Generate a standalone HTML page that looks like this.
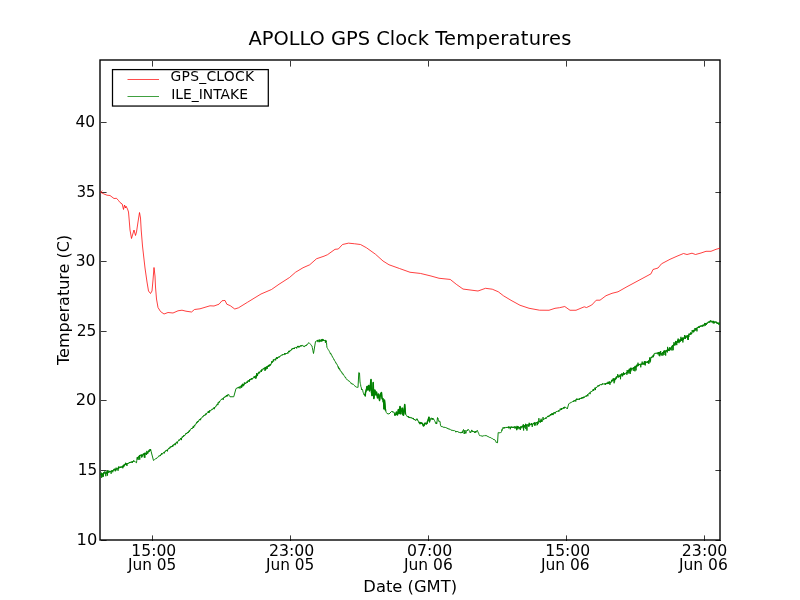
<!DOCTYPE html>
<html lang="en"><head><meta charset="utf-8"><title>APOLLO GPS Clock Temperatures</title>
<style>html,body{margin:0;padding:0;background:#fff;overflow:hidden}svg{display:block}text{font-family:"DejaVu Sans","Liberation Sans",sans-serif;fill:#000}</style></head><body>
<svg width="800" height="600" viewBox="0 0 800 600">
<rect x="0" y="0" width="800" height="600" fill="#fff"/>
<path d="M152.5,541v-5.6M152.5,61v5.6M290.5,541v-5.6M290.5,61v5.6M428.5,541v-5.6M428.5,61v5.6M566.5,541v-5.6M566.5,61v5.6M704.5,541v-5.6M704.5,61v5.6M101,540.5h5.6M721,540.5h-5.6M101,470.5h5.6M721,470.5h-5.6M101,400.5h5.6M721,400.5h-5.6M101,331.5h5.6M721,331.5h-5.6M101,261.5h5.6M721,261.5h-5.6M101,192.5h5.6M721,192.5h-5.6M101,122.5h5.6M721,122.5h-5.6" stroke="#000" stroke-width="0.78" fill="none"/>
<rect x="100" y="60" width="620" height="480" fill="none" stroke="#000" stroke-width="1.39"/>
<clipPath id="c"><rect x="100" y="60" width="620" height="480"/></clipPath>
<g clip-path="url(#c)" fill="none" stroke-linejoin="round" stroke-linecap="butt">
<path d="M102.30,190.60 L100.60,192.30 L104.00,194.00 L107.00,195.20 L110.00,195.50 L112.00,197.00 L114.00,198.50 L116.50,198.30 L118.50,200.50 L120.00,202.50 L122.20,204.00 L123.50,209.50 L124.50,205.00 L125.50,208.00 L126.00,206.20 L127.50,209.00 L128.50,212.00 L129.20,220.00 L130.00,230.00 L131.50,238.50 L132.80,234.00 L134.00,230.00 L135.50,235.50 L136.50,232.00 L138.00,222.00 L139.50,212.50 L140.50,218.00 L141.20,230.00 L142.50,246.00 L145.00,268.00 L147.00,282.00 L148.50,291.00 L150.50,293.50 L152.00,291.00 L153.00,280.00 L154.00,267.50 L155.00,276.00 L155.50,287.00 L156.50,299.00 L158.00,307.50 L160.50,311.50 L164.00,314.00 L168.00,312.50 L173.00,313.00 L178.00,310.80 L182.00,310.20 L186.00,311.20 L191.50,312.00 L194.50,309.50 L200.00,308.80 L210.00,305.80 L214.00,306.00 L219.00,304.20 L222.00,300.75 L225.00,300.45 L226.80,304.20 L230.25,305.70 L234.75,309.00 L238.50,307.80 L247.50,302.25 L261.00,294.00 L271.50,289.50 L279.00,284.25 L289.50,277.50 L295.50,272.25 L303.00,267.75 L309.75,264.75 L316.50,258.75 L324.00,256.20 L327.50,254.70 L335.00,249.30 L338.30,249.00 L342.50,244.50 L348.50,243.15 L354.50,243.75 L360.50,244.50 L366.50,247.80 L375.50,254.25 L383.00,261.00 L389.00,264.75 L399.50,268.50 L410.00,272.25 L420.50,273.45 L431.00,276.00 L439.00,278.25 L450.25,279.45 L456.25,284.25 L463.00,289.05 L478.00,291.00 L485.50,288.30 L492.25,289.20 L498.25,291.75 L503.50,295.80 L511.00,300.30 L520.00,305.25 L529.00,308.25 L539.50,310.20 L549.00,310.25 L555.00,308.30 L559.50,307.70 L564.75,306.50 L570.00,310.25 L576.00,310.25 L584.25,306.80 L586.50,307.55 L591.75,305.00 L596.25,300.20 L600.00,300.20 L606.00,295.70 L612.00,293.30 L618.00,291.80 L627.00,286.70 L639.00,280.25 L646.00,276.50 L651.00,273.80 L653.00,269.50 L658.00,268.00 L661.50,263.80 L670.00,259.30 L677.00,256.20 L683.50,253.50 L687.00,254.50 L692.00,253.20 L695.50,254.50 L701.00,253.00 L706.00,251.30 L711.00,251.30 L716.00,249.30 L720.00,248.20" stroke="#ff0000" stroke-width="0.75"/>
<path d="M100.00,475.00 L100.28,474.08 L100.56,475.15 L100.83,473.79 L101.11,474.62 L101.39,472.68 L101.67,477.81 L101.94,474.16 L102.22,474.38 L102.50,473.48 L102.78,476.91 L103.06,473.38 L103.33,476.58 L103.61,472.37 L103.89,474.14 L104.17,472.36 L104.44,473.22 L104.72,471.46 L105.00,473.00 L105.28,472.97 L105.56,472.64 L105.83,476.21 L106.11,471.61 L106.39,473.73 L106.67,472.49 L106.94,472.44 L107.22,470.62 L107.50,475.58 L107.78,470.28 L108.06,472.90 L108.33,471.98 L108.61,472.44 L108.89,470.66 L109.17,472.45 L109.44,471.23 L109.72,471.81 L110.00,471.50 L110.28,471.17 L110.56,471.70 L110.83,470.93 L111.11,473.76 L111.39,470.57 L111.67,471.33 L111.94,470.51 L112.22,471.00 L112.50,470.44 L112.78,472.25 L113.06,470.00 L113.33,470.38 L113.61,469.50 L113.89,470.56 L114.17,468.90 L114.44,469.87 L114.72,468.72 L115.00,469.50 L115.28,471.32 L115.56,468.85 L115.83,470.77 L116.11,467.69 L116.39,469.60 L116.67,468.68 L116.94,468.89 L117.22,468.47 L117.50,469.23 L117.78,468.28 L118.06,470.75 L118.33,467.00 L118.61,468.73 L118.89,466.31 L119.17,468.15 L119.44,467.37 L119.72,467.82 L120.00,467.50 L120.28,466.95 L120.56,467.78 L120.83,466.51 L121.11,467.93 L121.39,466.56 L121.67,466.53 L121.94,466.22 L122.22,466.21 L122.50,465.94 L122.78,468.29 L123.06,465.57 L123.33,467.17 L123.61,465.03 L123.89,466.79 L124.17,464.18 L124.44,465.71 L124.72,464.25 L125.00,464.50 L125.28,465.09 L125.56,462.77 L125.83,464.64 L126.11,463.52 L126.39,464.69 L126.67,463.42 L126.94,465.94 L127.22,463.04 L127.50,463.66 L127.78,463.23 L128.06,463.96 L128.33,463.16 L128.61,463.14 L128.89,462.88 L129.17,463.17 L129.44,461.99 L129.72,463.02 L130.00,462.50 L130.29,462.27 L130.57,462.83 L130.86,461.92 L131.14,462.43 L131.43,461.69 L131.71,462.33 L132.00,461.54 L132.29,462.93 L132.57,461.26 L132.86,461.56 L133.14,461.03 L133.43,461.66 L133.71,460.31 L134.00,461.00 L134.28,461.26 L134.56,460.98 L134.83,461.75 L135.11,461.79 L135.39,462.05 L135.67,461.98 L135.94,462.43 L136.22,462.55 L136.50,462.80 L136.75,460.58 L137.00,458.00 L137.27,457.15 L137.55,458.95 L137.82,457.09 L138.09,459.94 L138.36,456.77 L138.64,457.25 L138.91,456.14 L139.18,457.36 L139.45,454.98 L139.73,459.69 L140.00,455.50 L140.29,455.36 L140.57,455.92 L140.86,454.69 L141.14,455.78 L141.43,454.64 L141.71,457.56 L142.00,454.68 L142.29,456.59 L142.57,454.76 L142.86,455.52 L143.14,453.83 L143.43,454.83 L143.71,453.38 L144.00,454.50 L144.29,457.46 L144.57,452.97 L144.86,457.76 L145.14,452.60 L145.43,454.37 L145.71,453.34 L146.00,453.83 L146.29,452.84 L146.57,454.93 L146.86,450.89 L147.14,452.66 L147.43,452.07 L147.71,453.87 L148.00,452.00 L148.28,451.19 L148.56,452.31 L148.83,450.32 L149.11,452.02 L149.39,449.79 L149.67,450.14 L149.94,449.27 L150.22,451.00 L150.50,449.00 L150.75,449.82 L151.00,451.02 L151.25,451.82 L151.50,453.00 L153.50,460.50 L153.78,460.28 L154.07,460.01 L154.35,459.88 L154.63,459.59 L154.91,459.49 L155.20,459.13 L155.48,459.00 L155.76,458.71 L156.04,459.00 L156.33,458.30 L156.61,458.45 L156.89,457.84 L157.17,457.76 L157.46,457.31 L157.74,457.25 L158.02,456.83 L158.30,456.93 L158.59,456.50 L158.87,456.59 L159.15,455.63 L159.43,456.09 L159.72,455.66 L160.00,455.50 L160.29,456.05 L160.57,454.96 L160.86,455.23 L161.14,453.99 L161.43,454.44 L161.71,453.11 L162.00,454.36 L162.29,453.75 L162.57,453.81 L162.86,453.15 L163.14,453.18 L163.43,452.78 L163.71,452.76 L164.00,452.03 L164.29,453.38 L164.57,451.69 L164.86,452.00 L165.14,451.52 L165.43,451.67 L165.71,450.51 L166.00,451.00 L166.29,450.83 L166.57,450.01 L166.86,450.47 L167.14,449.72 L167.43,451.37 L167.71,449.46 L168.00,449.58 L168.29,448.92 L168.57,449.03 L168.86,447.96 L169.14,448.48 L169.43,447.86 L169.71,448.41 L170.00,446.89 L170.29,447.46 L170.57,446.75 L170.86,447.36 L171.14,446.16 L171.43,447.03 L171.71,446.18 L172.00,446.00 L172.28,446.58 L172.55,445.32 L172.82,446.67 L173.10,444.86 L173.38,445.45 L173.65,444.58 L173.93,444.89 L174.20,443.99 L174.47,444.19 L174.75,443.71 L175.03,445.22 L175.30,443.43 L175.57,444.46 L175.85,442.92 L176.12,442.97 L176.40,442.22 L176.68,442.57 L176.95,441.70 L177.22,443.55 L177.50,441.75 L177.78,441.49 L178.06,441.40 L178.33,440.80 L178.61,440.80 L178.89,439.75 L179.17,440.68 L179.44,439.74 L179.72,440.02 L180.00,439.25 L180.28,439.40 L180.56,438.21 L180.83,438.78 L181.11,437.97 L181.39,440.10 L181.67,437.88 L181.94,437.81 L182.22,436.70 L182.50,437.43 L182.78,436.53 L183.06,437.04 L183.33,436.32 L183.61,436.84 L183.89,435.04 L184.17,435.84 L184.44,435.06 L184.72,435.49 L185.00,435.00 L185.28,434.44 L185.56,434.69 L185.83,433.40 L186.11,433.91 L186.39,433.11 L186.67,433.98 L186.94,432.90 L187.22,433.07 L187.50,432.13 L187.78,432.58 L188.06,431.94 L188.33,432.84 L188.61,431.28 L188.89,431.15 L189.17,430.73 L189.44,431.64 L189.72,430.10 L190.00,430.53 L190.28,429.51 L190.56,429.49 L190.83,429.10 L191.11,429.05 L191.39,428.23 L191.67,428.90 L191.94,428.03 L192.22,428.63 L192.50,427.50 L192.78,426.92 L193.06,426.92 L193.33,426.29 L193.61,427.97 L193.89,425.86 L194.17,425.76 L194.44,425.26 L194.72,426.24 L195.00,424.68 L195.28,424.61 L195.56,424.05 L195.83,424.19 L196.11,423.48 L196.39,423.66 L196.67,422.28 L196.94,423.05 L197.22,421.79 L197.50,422.32 L197.78,421.11 L198.06,422.03 L198.33,420.89 L198.61,421.12 L198.89,420.32 L199.17,420.37 L199.44,419.29 L199.72,419.78 L200.00,419.25 L200.28,418.96 L200.56,420.17 L200.83,418.11 L201.11,418.42 L201.39,417.96 L201.67,417.91 L201.94,417.39 L202.22,417.35 L202.50,416.62 L202.78,417.09 L203.06,416.36 L203.33,416.53 L203.61,415.47 L203.89,415.86 L204.17,415.04 L204.44,415.39 L204.72,414.91 L205.00,415.47 L205.28,414.29 L205.56,414.87 L205.83,413.67 L206.11,414.60 L206.39,413.01 L206.67,413.36 L206.94,412.85 L207.22,412.88 L207.50,412.50 L207.78,412.17 L208.06,412.31 L208.33,411.08 L208.61,412.89 L208.89,411.21 L209.17,412.71 L209.44,410.41 L209.72,411.46 L210.00,410.70 L210.28,410.89 L210.56,410.33 L210.83,410.46 L211.11,409.96 L211.39,410.18 L211.67,409.34 L211.94,409.44 L212.22,408.98 L212.50,409.49 L212.78,408.79 L213.06,408.76 L213.33,408.13 L213.61,408.60 L213.89,407.57 L214.17,409.22 L214.44,407.25 L214.72,408.05 L215.00,407.25 L215.29,406.79 L215.57,406.76 L215.86,405.92 L216.14,406.23 L216.43,405.42 L216.71,405.68 L217.00,404.17 L217.29,404.40 L217.57,403.82 L217.86,405.07 L218.14,402.56 L218.43,403.19 L218.71,402.43 L219.00,403.03 L219.29,401.40 L219.57,402.01 L219.86,401.00 L220.14,400.87 L220.43,400.42 L220.71,400.28 L221.00,399.75 L221.28,399.48 L221.56,399.76 L221.83,398.87 L222.11,399.24 L222.39,398.70 L222.67,398.57 L222.94,398.28 L223.22,399.77 L223.50,397.84 L223.78,397.97 L224.06,397.24 L224.33,397.65 L224.61,396.76 L224.89,397.25 L225.17,396.64 L225.44,396.82 L225.72,396.22 L226.00,397.00 L226.28,395.52 L226.56,395.97 L226.83,395.03 L227.11,396.19 L227.39,394.95 L227.67,396.19 L227.94,394.35 L228.22,394.60 L228.50,394.20 L228.80,394.63 L229.10,395.41 L229.40,395.63 L229.70,396.25 L230.00,396.75 L233.75,396.75 L236.00,388.50 L236.28,388.37 L236.56,388.56 L236.84,388.08 L237.12,388.30 L237.41,387.63 L237.69,387.86 L237.97,387.49 L238.25,388.19 L238.53,387.27 L238.81,387.86 L239.09,386.81 L239.38,387.21 L239.66,386.69 L239.94,388.57 L240.22,386.48 L240.50,386.70 L240.78,386.81 L241.06,385.69 L241.33,387.77 L241.61,384.84 L241.89,387.27 L242.17,384.82 L242.44,385.59 L242.72,383.72 L243.00,386.29 L243.28,383.96 L243.56,385.58 L243.83,384.26 L244.11,385.18 L244.39,382.54 L244.67,383.80 L244.94,382.75 L245.22,383.75 L245.50,383.06 L245.78,383.71 L246.06,382.33 L246.33,382.56 L246.61,381.76 L246.89,382.80 L247.17,381.84 L247.44,382.77 L247.72,380.70 L248.00,381.30 L248.28,381.41 L248.56,380.43 L248.84,381.30 L249.12,380.23 L249.40,381.68 L249.68,379.15 L249.96,380.08 L250.24,379.19 L250.52,380.09 L250.80,378.90 L251.08,379.44 L251.36,378.28 L251.64,379.38 L251.92,378.00 L252.20,379.37 L252.48,378.13 L252.76,378.39 L253.04,377.88 L253.32,378.01 L253.60,377.63 L253.88,378.18 L254.16,376.19 L254.44,377.87 L254.72,376.55 L255.00,376.75 L255.28,377.12 L255.56,376.18 L255.83,378.80 L256.11,375.15 L256.39,377.49 L256.67,373.06 L256.94,375.50 L257.22,374.11 L257.50,376.09 L257.78,373.59 L258.06,374.12 L258.33,372.80 L258.61,373.27 L258.89,371.82 L259.17,373.41 L259.44,371.93 L259.72,372.77 L260.00,371.38 L260.28,371.49 L260.56,371.07 L260.83,371.10 L261.11,370.18 L261.39,372.00 L261.67,369.52 L261.94,370.76 L262.22,369.18 L262.50,369.25 L262.78,369.36 L263.06,368.80 L263.33,369.24 L263.61,368.45 L263.89,369.19 L264.17,367.91 L264.44,368.40 L264.72,367.70 L265.00,370.90 L265.28,366.95 L265.56,370.04 L265.83,367.16 L266.11,369.27 L266.39,366.90 L266.67,367.37 L266.94,366.13 L267.22,368.85 L267.50,366.25 L267.78,366.90 L268.06,365.62 L268.33,366.70 L268.61,365.06 L268.89,366.63 L269.17,364.78 L269.44,366.12 L269.72,364.48 L270.00,364.75 L270.28,365.66 L270.56,364.04 L270.84,364.57 L271.12,363.35 L271.41,363.61 L271.69,361.35 L271.97,362.82 L272.25,361.36 L272.53,362.34 L272.81,361.02 L273.09,361.21 L273.38,359.51 L273.66,361.39 L273.94,359.61 L274.22,360.05 L274.50,359.50 L274.78,359.30 L275.06,359.28 L275.33,358.78 L275.61,360.36 L275.89,358.56 L276.17,358.79 L276.44,357.51 L276.72,358.83 L277.00,357.14 L277.28,358.91 L277.56,357.51 L277.83,357.52 L278.11,357.13 L278.39,357.24 L278.67,356.81 L278.94,357.79 L279.22,356.18 L279.50,356.52 L279.78,356.33 L280.06,356.71 L280.33,355.75 L280.61,356.00 L280.89,355.60 L281.17,355.58 L281.44,355.09 L281.72,355.31 L282.00,355.00 L282.28,354.40 L282.56,355.30 L282.84,354.56 L283.12,354.98 L283.41,354.43 L283.69,354.66 L283.97,354.29 L284.25,354.54 L284.53,353.44 L284.81,354.51 L285.09,353.01 L285.38,354.28 L285.66,353.77 L285.94,353.77 L286.22,353.08 L286.50,353.50 L286.79,353.88 L287.07,352.94 L287.36,353.01 L287.64,352.54 L287.93,353.53 L288.21,352.04 L288.50,352.02 L288.79,350.86 L289.07,351.96 L289.36,351.05 L289.64,352.15 L289.93,350.44 L290.21,350.78 L290.50,350.27 L290.79,350.76 L291.07,349.78 L291.36,349.95 L291.64,348.95 L291.93,349.72 L292.21,348.29 L292.50,348.70 L292.78,348.85 L293.06,348.02 L293.34,348.72 L293.61,348.00 L293.89,349.06 L294.17,347.75 L294.45,348.94 L294.73,347.83 L295.01,347.95 L295.29,347.45 L295.56,347.77 L295.84,347.49 L296.12,347.67 L296.40,347.11 L296.68,348.40 L296.96,346.98 L297.24,347.14 L297.51,346.11 L297.79,347.05 L298.07,345.87 L298.35,346.80 L298.63,346.28 L298.91,347.62 L299.19,346.05 L299.46,346.59 L299.74,346.01 L300.02,346.49 L300.30,345.69 L300.58,346.27 L300.86,345.46 L301.14,346.08 L301.41,345.46 L301.69,346.25 L301.97,345.28 L302.25,345.25 L302.53,345.50 L302.81,345.53 L303.09,346.19 L303.38,345.93 L303.66,346.48 L303.94,346.01 L304.22,346.57 L304.50,346.75 L304.78,346.10 L305.06,346.27 L305.34,345.55 L305.62,345.99 L305.91,345.21 L306.19,345.79 L306.47,344.87 L306.75,345.14 L307.03,344.34 L307.31,344.51 L307.59,343.88 L307.88,343.84 L308.16,343.45 L308.44,343.34 L308.72,342.71 L309.00,342.70 L309.27,343.01 L309.55,343.29 L309.82,343.68 L310.09,343.83 L310.36,344.21 L310.64,344.41 L310.91,344.85 L311.18,344.94 L311.45,345.60 L311.73,345.64 L312.00,346.00 L312.30,347.64 L312.60,348.95 L312.90,350.60 L313.20,351.96 L313.50,353.50 L315.50,341.50 L315.77,341.45 L316.04,341.17 L316.31,341.30 L316.58,340.80 L316.85,340.91 L317.12,340.52 L317.40,341.08 L317.67,339.94 L317.94,342.10 L318.21,340.17 L318.48,340.25 L318.75,340.00 L319.03,339.80 L319.31,342.16 L319.58,339.64 L319.86,340.18 L320.14,339.94 L320.42,340.64 L320.69,340.07 L320.97,341.93 L321.25,339.47 L321.53,340.63 L321.81,339.48 L322.08,341.33 L322.36,338.94 L322.64,340.80 L322.92,340.16 L323.19,340.83 L323.47,339.44 L323.75,340.90 L324.03,340.46 L324.31,340.81 L324.58,340.28 L324.86,340.62 L325.14,339.93 L325.42,342.78 L325.69,340.34 L325.97,341.52 L326.25,340.75 L326.50,342.36 L326.75,345.80 L327.00,347.50 L327.28,347.93 L327.56,348.47 L327.84,348.86 L328.12,349.42 L328.41,349.83 L328.69,350.31 L328.97,350.64 L329.25,351.27 L329.53,351.71 L329.81,352.44 L330.09,352.60 L330.38,353.87 L330.66,353.32 L330.94,354.37 L331.22,354.21 L331.50,355.00 L331.79,355.58 L332.07,355.74 L332.36,356.92 L332.64,356.84 L332.93,357.78 L333.21,357.95 L333.50,358.66 L333.79,358.90 L334.07,360.13 L334.36,359.94 L334.64,360.67 L334.93,360.97 L335.21,361.52 L335.50,361.86 L335.79,362.94 L336.07,362.83 L336.36,363.74 L336.64,363.72 L336.93,364.53 L337.21,364.65 L337.50,365.50 L337.77,366.32 L338.05,366.17 L338.32,367.79 L338.59,366.91 L338.86,368.82 L339.14,368.09 L339.41,369.24 L339.68,368.92 L339.95,370.30 L340.23,370.15 L340.50,370.75 L340.79,371.22 L341.07,371.18 L341.36,372.08 L341.64,372.28 L341.93,373.17 L342.21,372.81 L342.50,373.59 L342.79,373.51 L343.07,374.66 L343.36,374.38 L343.64,375.09 L343.93,375.29 L344.21,375.87 L344.50,376.07 L344.79,376.66 L345.07,376.85 L345.36,377.79 L345.64,377.39 L345.93,378.25 L346.21,378.61 L346.50,379.00 L346.79,379.51 L347.08,379.46 L347.38,379.82 L347.67,379.89 L347.96,380.33 L348.25,380.49 L348.54,381.01 L348.83,380.80 L349.12,381.35 L349.42,381.24 L349.71,381.80 L350.00,382.00 L350.29,382.19 L350.57,382.50 L350.86,382.56 L351.14,383.48 L351.43,383.03 L351.71,383.52 L352.00,383.44 L352.29,384.22 L352.57,383.86 L352.86,384.40 L353.14,384.33 L353.43,384.69 L353.71,384.71 L354.00,385.00 L354.29,385.31 L354.57,385.47 L354.86,385.99 L355.14,386.06 L355.43,386.76 L355.71,386.65 L356.00,387.00 L356.29,387.13 L356.57,387.10 L356.86,387.33 L357.14,387.23 L357.43,387.38 L357.71,387.41 L358.00,387.50 L358.80,372.50 L359.50,373.00 L360.00,382.00 L360.30,383.45 L360.60,384.64 L360.90,386.66 L361.20,387.17 L361.50,389.00 L361.75,389.94 L362.00,389.09 L362.25,390.02 L362.50,390.00 L362.75,390.53 L363.00,391.90 L363.25,392.61 L363.50,393.50 L363.80,394.37 L364.10,393.90 L364.40,394.78 L364.70,393.96 L365.00,394.50 L365.25,396.00 L365.50,392.40 L365.75,392.20 L366.00,391.00 L366.25,389.68 L366.50,389.27 L366.75,387.02 L367.00,386.50 L367.27,387.80 L367.53,388.47 L367.80,390.00 L368.15,387.87 L368.50,385.50 L368.75,385.80 L369.00,388.58 L369.25,389.33 L369.50,391.00 L369.75,390.08 L370.00,387.06 L370.25,386.04 L370.50,384.00 L370.75,381.49 L371.00,379.50 L371.25,387.87 L371.50,393.00 L371.75,393.23 L372.00,395.58 L372.25,394.14 L372.50,395.00 L372.85,389.48 L373.20,382.50 L373.50,390.24 L373.80,398.50 L374.05,397.35 L374.30,394.17 L374.55,392.15 L374.80,390.00 L375.05,391.17 L375.30,392.59 L375.55,393.54 L375.80,395.00 L376.15,393.57 L376.50,392.00 L376.75,393.28 L377.00,395.02 L377.25,396.06 L377.50,398.00 L377.75,397.41 L378.00,394.91 L378.25,395.67 L378.50,394.00 L378.75,395.18 L379.00,397.51 L379.25,398.73 L379.50,400.50 L379.75,399.18 L380.00,396.76 L380.25,396.12 L380.50,394.00 L380.75,393.57 L381.00,393.30 L381.25,392.81 L381.50,392.50 L381.85,396.77 L382.20,399.00 L382.46,399.09 L382.72,399.66 L382.98,398.66 L383.24,401.89 L383.50,400.50 L383.75,404.01 L384.00,409.00 L384.25,405.44 L384.50,400.00 L384.85,403.49 L385.20,408.00 L385.47,410.45 L385.73,409.73 L386.00,412.00 L386.25,412.38 L386.50,412.74 L386.75,413.25 L387.00,413.50 L389.00,414.00 L391.50,411.50 L391.78,411.57 L392.06,411.74 L392.33,411.39 L392.61,412.11 L392.89,411.39 L393.17,412.35 L393.44,412.04 L393.72,412.43 L394.00,412.50 L394.30,412.56 L394.60,415.54 L394.90,413.60 L395.20,414.65 L395.50,415.00 L395.75,414.06 L396.00,414.34 L396.25,412.23 L396.50,412.00 L396.75,414.25 L397.00,413.50 L397.25,414.76 L397.50,415.00 L397.75,413.35 L398.00,412.76 L398.25,409.81 L398.50,409.50 L398.85,412.45 L399.20,413.50 L399.47,410.84 L399.73,409.93 L400.00,406.50 L400.27,407.61 L400.53,411.88 L400.80,414.00 L401.15,410.89 L401.50,411.00 L401.85,409.91 L402.20,408.00 L402.47,410.29 L402.73,412.70 L403.00,415.00 L403.27,413.47 L403.53,415.25 L403.80,412.00 L404.10,408.83 L404.40,407.39 L404.70,404.50 L404.97,407.47 L405.23,410.96 L405.50,414.00 L405.80,414.32 L406.10,415.12 L406.40,415.34 L406.70,416.07 L407.00,416.50 L407.27,416.27 L407.55,416.83 L407.82,416.49 L408.09,417.11 L408.36,416.19 L408.64,417.36 L408.91,416.86 L409.18,418.04 L409.45,416.97 L409.73,417.85 L410.00,417.50 L410.29,417.40 L410.57,418.10 L410.86,417.59 L411.14,418.10 L411.43,417.59 L411.71,418.26 L412.00,418.00 L412.27,417.92 L412.55,418.59 L412.82,418.48 L413.09,419.00 L413.36,417.97 L413.64,419.23 L413.91,419.21 L414.18,419.87 L414.45,419.06 L414.73,419.95 L415.00,420.00 L415.28,419.89 L415.56,420.56 L415.83,419.79 L416.11,419.87 L416.39,419.49 L416.67,419.79 L416.94,418.63 L417.22,420.33 L417.50,419.50 L417.80,419.98 L418.10,421.28 L418.40,421.26 L418.70,422.62 L419.00,422.50 L419.27,422.41 L419.55,423.10 L419.82,422.44 L420.09,423.78 L420.36,422.73 L420.64,422.89 L420.91,422.74 L421.18,423.29 L421.45,422.86 L421.73,423.42 L422.00,423.00 L422.30,423.45 L422.60,424.41 L422.90,424.50 L423.20,425.74 L423.50,426.00 L423.80,425.08 L424.10,425.58 L424.40,423.58 L424.70,423.93 L425.00,423.00 L425.30,423.17 L425.60,423.87 L425.90,423.28 L426.20,423.98 L426.50,424.00 L426.80,423.12 L427.10,423.42 L427.40,421.54 L427.70,420.93 L428.00,420.00 L428.25,419.13 L428.50,418.58 L428.75,417.68 L429.00,417.00 L429.25,420.38 L429.50,422.00 L429.80,420.54 L430.10,420.89 L430.40,418.80 L430.70,419.27 L431.00,418.00 L431.27,417.89 L431.55,418.33 L431.82,418.33 L432.09,419.72 L432.36,418.02 L432.64,419.19 L432.91,418.88 L433.18,419.43 L433.45,418.59 L433.73,419.51 L434.00,419.50 L434.30,420.05 L434.60,420.73 L434.90,421.16 L435.20,422.40 L435.50,422.50 L435.76,422.43 L436.02,423.83 L436.28,422.51 L436.54,424.03 L436.80,423.50 L437.15,420.38 L437.50,417.50 L437.75,418.82 L438.00,418.33 L438.25,420.14 L438.50,421.00 L438.80,420.96 L439.10,421.55 L439.40,420.85 L439.70,421.46 L440.00,421.50 L440.25,423.26 L440.50,425.50 L440.78,425.72 L441.06,425.79 L441.33,426.64 L441.61,426.16 L441.89,426.63 L442.17,426.48 L442.44,426.96 L442.72,426.83 L443.00,427.00 L443.29,427.38 L443.57,427.11 L443.86,427.35 L444.14,426.91 L444.43,427.56 L444.71,427.40 L445.00,427.68 L445.29,427.40 L445.57,427.97 L445.86,427.56 L446.14,428.05 L446.43,427.82 L446.71,428.13 L447.00,428.00 L447.27,428.13 L447.55,428.88 L447.82,428.37 L448.09,428.59 L448.36,428.61 L448.64,429.17 L448.91,428.81 L449.18,429.41 L449.45,429.16 L449.73,429.40 L450.00,429.50 L450.28,429.46 L450.56,429.84 L450.83,429.71 L451.11,429.90 L451.39,429.85 L451.67,430.51 L451.94,430.06 L452.22,430.26 L452.50,430.03 L452.78,430.49 L453.06,430.00 L453.33,430.58 L453.61,430.41 L453.89,430.81 L454.17,430.62 L454.44,430.93 L454.72,430.67 L455.00,431.00 L455.28,431.18 L455.56,431.00 L455.83,432.20 L456.11,431.29 L456.39,431.47 L456.67,431.05 L456.94,431.76 L457.22,431.42 L457.50,431.75 L457.78,431.40 L458.06,431.94 L458.33,431.88 L458.61,432.28 L458.89,431.97 L459.17,432.62 L459.44,432.17 L459.72,432.48 L460.00,432.50 L460.29,432.46 L460.57,433.15 L460.86,432.37 L461.14,432.85 L461.43,432.31 L461.71,433.07 L462.00,432.50 L462.30,431.52 L462.60,432.73 L462.90,430.49 L463.20,430.55 L463.50,429.50 L463.85,430.89 L464.20,434.00 L464.47,432.70 L464.73,430.97 L465.00,430.00 L465.27,432.46 L465.53,431.92 L465.80,433.50 L466.05,432.82 L466.30,431.89 L466.55,431.31 L466.80,430.50 L467.08,430.09 L467.37,430.85 L467.65,429.70 L467.93,429.84 L468.22,429.34 L468.50,429.50 L468.80,430.13 L469.10,430.44 L469.40,431.31 L469.70,431.64 L470.00,432.50 L470.29,432.89 L470.57,431.72 L470.86,432.35 L471.14,431.30 L471.43,431.33 L471.71,429.92 L472.00,430.50 L472.28,431.69 L472.56,430.84 L472.83,431.74 L473.11,431.32 L473.39,431.74 L473.67,431.25 L473.94,432.15 L474.22,432.11 L474.50,432.50 L474.77,433.00 L475.05,431.10 L475.32,432.45 L475.59,431.64 L475.86,432.45 L476.14,431.19 L476.41,431.61 L476.68,430.88 L476.95,430.90 L477.23,430.40 L477.50,430.50 L477.79,431.74 L478.07,431.86 L478.36,432.82 L478.64,433.24 L478.93,434.34 L479.21,434.76 L479.50,435.50 L479.78,435.57 L480.06,435.56 L480.33,435.70 L480.61,435.49 L480.89,435.80 L481.17,435.68 L481.44,435.94 L481.72,435.86 L482.00,436.00 L482.29,436.45 L482.57,435.82 L482.86,436.10 L483.14,435.73 L483.43,435.93 L483.71,435.71 L484.00,435.78 L484.29,435.70 L484.57,435.95 L484.86,435.55 L485.14,435.70 L485.43,435.48 L485.71,436.06 L486.00,435.50 L486.29,435.54 L486.57,435.84 L486.86,435.83 L487.14,436.37 L487.43,436.08 L487.71,436.41 L488.00,436.23 L488.29,436.75 L488.57,436.74 L488.86,437.09 L489.14,436.91 L489.43,437.33 L489.71,437.02 L490.00,437.50 L490.28,437.83 L490.56,437.53 L490.83,437.98 L491.11,438.00 L491.39,438.21 L491.67,438.16 L491.94,438.49 L492.22,438.52 L492.50,438.88 L492.78,438.74 L493.06,439.04 L493.33,439.15 L493.61,439.74 L493.89,439.32 L494.17,439.79 L494.44,439.59 L494.72,440.06 L495.00,440.00 L495.25,440.28 L495.50,441.10 L495.75,441.15 L496.00,442.00 L496.30,442.59 L496.60,442.15 L496.90,442.60 L497.20,442.62 L497.50,442.80 L498.20,432.50 L498.50,432.70 L498.80,432.58 L499.10,432.83 L499.40,432.51 L499.70,433.08 L500.00,433.00 L500.31,432.60 L500.62,432.66 L500.94,432.32 L501.25,432.25 L501.55,431.52 L501.85,429.64 L502.15,430.39 L502.45,428.51 L502.75,427.75 L503.03,428.10 L503.31,427.67 L503.59,428.43 L503.86,427.56 L504.14,428.21 L504.42,427.27 L504.70,428.23 L504.98,427.33 L505.26,427.68 L505.54,427.34 L505.81,427.52 L506.09,427.35 L506.37,427.83 L506.65,427.16 L506.93,427.99 L507.21,426.95 L507.49,427.42 L507.76,427.36 L508.04,427.56 L508.32,427.07 L508.60,428.28 L508.88,426.22 L509.16,427.81 L509.44,427.04 L509.71,427.62 L509.99,427.19 L510.27,429.26 L510.55,427.13 L510.83,427.61 L511.11,426.36 L511.39,427.29 L511.66,426.88 L511.94,427.99 L512.22,426.93 L512.50,427.00 L512.78,427.75 L513.06,426.80 L513.33,427.86 L513.61,426.99 L513.89,427.56 L514.17,426.63 L514.44,427.23 L514.72,426.56 L515.00,428.61 L515.28,426.61 L515.56,428.10 L515.83,426.87 L516.11,427.57 L516.39,427.12 L516.67,430.19 L516.94,425.89 L517.22,427.50 L517.50,426.40 L517.78,429.32 L518.06,426.29 L518.33,427.42 L518.61,426.76 L518.89,428.53 L519.17,427.07 L519.44,428.50 L519.72,427.29 L520.00,427.30 L520.28,429.97 L520.56,426.69 L520.83,427.52 L521.11,426.15 L521.39,427.16 L521.67,426.81 L521.94,428.31 L522.22,425.90 L522.50,426.60 L522.78,425.59 L523.06,426.73 L523.33,424.25 L523.61,430.49 L523.89,425.73 L524.17,426.83 L524.44,425.41 L524.72,427.62 L525.00,425.08 L525.28,426.19 L525.56,423.80 L525.83,429.07 L526.11,424.49 L526.39,425.82 L526.67,424.72 L526.94,430.64 L527.22,424.75 L527.50,425.20 L527.78,425.20 L528.06,424.13 L528.33,426.18 L528.61,424.83 L528.89,426.80 L529.17,422.77 L529.44,425.44 L529.72,423.51 L530.00,425.21 L530.28,424.41 L530.56,424.68 L530.83,424.31 L531.11,424.91 L531.39,423.02 L531.67,424.71 L531.94,423.99 L532.22,426.88 L532.50,423.75 L532.78,424.08 L533.06,423.79 L533.33,424.17 L533.61,422.84 L533.89,424.03 L534.17,423.00 L534.44,425.61 L534.72,422.14 L535.00,423.40 L535.28,423.84 L535.56,423.15 L535.83,425.54 L536.11,422.19 L536.39,423.05 L536.67,422.54 L536.94,423.09 L537.22,422.00 L537.50,425.13 L537.78,421.59 L538.06,423.92 L538.33,421.69 L538.61,421.93 L538.89,418.23 L539.17,421.76 L539.44,421.31 L539.72,422.12 L540.00,420.89 L540.28,422.64 L540.56,420.51 L540.83,421.37 L541.11,418.75 L541.39,421.96 L541.67,420.00 L541.94,421.96 L542.22,420.37 L542.50,420.30 L542.78,420.48 L543.06,417.11 L543.33,419.98 L543.61,419.32 L543.89,419.49 L544.17,418.95 L544.44,419.07 L544.72,418.61 L545.00,418.98 L545.28,418.15 L545.56,418.63 L545.83,417.49 L546.11,418.66 L546.39,417.39 L546.67,417.39 L546.94,417.12 L547.22,417.05 L547.50,416.29 L547.78,417.13 L548.06,415.84 L548.33,416.87 L548.61,415.88 L548.89,415.88 L549.17,415.59 L549.44,416.37 L549.72,415.06 L550.00,415.00 L550.28,415.32 L550.56,414.01 L550.83,415.50 L551.11,414.15 L551.39,414.83 L551.67,413.54 L551.94,414.52 L552.22,413.41 L552.50,414.81 L552.78,413.45 L553.06,415.09 L553.33,413.28 L553.61,413.63 L553.89,412.43 L554.17,413.24 L554.44,412.43 L554.72,413.22 L555.00,412.36 L555.28,413.45 L555.56,411.92 L555.83,412.09 L556.11,411.86 L556.39,411.95 L556.67,411.13 L556.94,411.62 L557.22,411.13 L557.50,411.25 L557.78,411.29 L558.06,410.90 L558.33,411.30 L558.61,410.41 L558.89,411.64 L559.17,410.20 L559.44,410.19 L559.72,409.87 L560.00,410.37 L560.28,408.65 L560.56,409.49 L560.83,409.09 L561.11,409.62 L561.39,408.12 L561.67,409.88 L561.94,408.23 L562.22,408.64 L562.50,408.12 L562.78,408.46 L563.06,407.83 L563.33,408.67 L563.61,407.29 L563.89,407.92 L564.17,407.19 L564.44,408.38 L564.72,406.88 L565.00,406.75 L565.28,407.54 L565.56,407.21 L565.84,407.65 L566.12,407.62 L566.41,408.17 L566.69,408.31 L566.97,408.72 L567.25,409.00 L568.75,403.75 L569.03,403.58 L569.31,403.44 L569.59,403.27 L569.88,403.36 L570.16,402.95 L570.44,402.86 L570.72,402.65 L571.00,402.66 L571.28,401.95 L571.56,402.27 L571.84,401.98 L572.12,401.96 L572.41,401.50 L572.69,401.71 L572.97,401.36 L573.25,401.31 L573.53,400.87 L573.81,401.99 L574.09,400.30 L574.38,400.77 L574.66,400.14 L574.94,400.46 L575.22,399.99 L575.50,400.00 L575.78,401.52 L576.06,399.43 L576.34,399.91 L576.62,398.72 L576.91,399.99 L577.19,398.72 L577.47,399.67 L577.75,398.99 L578.03,399.29 L578.31,399.05 L578.59,399.40 L578.88,398.82 L579.16,399.98 L579.44,398.51 L579.72,399.11 L580.00,398.36 L580.28,398.64 L580.56,397.94 L580.84,398.80 L581.12,398.07 L581.41,398.75 L581.69,397.51 L581.97,398.27 L582.25,397.40 L582.53,398.24 L582.81,397.19 L583.09,398.28 L583.38,396.97 L583.66,397.81 L583.94,396.64 L584.22,397.70 L584.50,397.00 L584.78,396.64 L585.06,396.75 L585.33,396.21 L585.61,396.26 L585.89,395.77 L586.17,396.80 L586.44,395.35 L586.72,395.66 L587.00,394.99 L587.28,394.91 L587.56,394.45 L587.83,396.23 L588.11,394.06 L588.39,393.95 L588.67,393.63 L588.94,393.57 L589.22,392.89 L589.50,393.09 L589.78,392.62 L590.06,394.17 L590.33,392.21 L590.61,392.24 L590.89,391.44 L591.17,391.70 L591.44,391.42 L591.72,391.95 L592.00,391.00 L592.28,390.68 L592.56,390.81 L592.83,389.81 L593.11,390.19 L593.39,389.10 L593.67,390.85 L593.94,389.18 L594.22,389.33 L594.50,388.76 L594.78,388.93 L595.06,387.58 L595.33,390.05 L595.61,387.89 L595.89,388.04 L596.17,387.51 L596.44,387.86 L596.72,386.99 L597.00,387.08 L597.28,386.65 L597.56,386.78 L597.83,385.59 L598.11,386.14 L598.39,385.59 L598.67,386.36 L598.94,385.42 L599.22,386.02 L599.50,385.00 L599.78,384.80 L600.07,385.03 L600.35,384.50 L600.63,384.97 L600.91,384.61 L601.20,385.18 L601.48,384.19 L601.76,384.59 L602.04,383.91 L602.33,384.44 L602.61,383.38 L602.89,384.21 L603.17,383.92 L603.46,384.00 L603.74,383.85 L604.02,383.91 L604.30,383.68 L604.59,383.89 L604.87,383.46 L605.15,385.01 L605.43,383.39 L605.72,384.45 L606.00,383.30 L606.28,383.02 L606.56,383.95 L606.84,382.79 L607.12,383.20 L607.41,382.92 L607.69,384.06 L607.97,381.82 L608.25,383.20 L608.53,382.44 L608.81,383.97 L609.09,381.62 L609.38,383.08 L609.66,381.52 L609.94,384.77 L610.22,382.14 L610.50,382.25 L610.78,383.01 L611.06,381.70 L611.33,381.93 L611.61,379.85 L611.89,381.75 L612.17,380.26 L612.44,380.99 L612.72,379.44 L613.00,380.42 L613.28,378.16 L613.56,380.39 L613.83,379.45 L614.11,383.27 L614.39,378.64 L614.67,381.47 L614.94,378.49 L615.22,379.85 L615.50,378.24 L615.78,379.36 L616.06,376.85 L616.33,378.72 L616.61,376.38 L616.89,377.46 L617.17,376.76 L617.44,376.99 L617.72,374.14 L618.00,376.25 L618.28,377.64 L618.56,375.58 L618.83,376.14 L619.11,375.78 L619.39,377.07 L619.67,375.51 L619.94,375.57 L620.22,374.37 L620.50,379.23 L620.78,375.11 L621.06,375.44 L621.33,374.03 L621.61,375.09 L621.89,373.30 L622.17,376.41 L622.44,374.30 L622.72,376.12 L623.00,373.49 L623.28,374.86 L623.56,372.32 L623.83,374.93 L624.11,373.73 L624.39,374.58 L624.67,373.01 L624.94,374.15 L625.22,373.02 L625.50,373.25 L625.78,373.12 L626.06,372.74 L626.33,372.96 L626.61,372.09 L626.89,374.75 L627.17,370.10 L627.44,372.54 L627.72,371.67 L628.00,373.53 L628.28,370.15 L628.56,371.39 L628.83,369.64 L629.11,373.24 L629.39,368.65 L629.67,371.05 L629.94,369.29 L630.22,373.97 L630.50,367.95 L630.78,371.50 L631.06,367.69 L631.33,369.36 L631.61,368.44 L631.89,370.35 L632.17,368.39 L632.44,368.73 L632.72,367.91 L633.00,368.00 L633.28,369.11 L633.56,367.30 L633.83,370.94 L634.11,367.43 L634.39,368.16 L634.67,366.58 L634.94,371.32 L635.22,365.89 L635.50,367.97 L635.78,366.45 L636.06,370.39 L636.33,365.34 L636.61,367.13 L636.89,364.65 L637.17,366.46 L637.44,364.69 L637.72,365.79 L638.00,362.69 L638.28,366.09 L638.56,364.16 L638.83,365.23 L639.11,364.06 L639.39,364.88 L639.67,363.97 L639.94,364.60 L640.22,363.89 L640.50,364.25 L640.78,367.32 L641.06,363.74 L641.33,364.34 L641.61,363.64 L641.89,364.79 L642.17,361.61 L642.44,363.75 L642.72,363.26 L643.00,364.69 L643.28,363.03 L643.56,363.30 L643.83,362.60 L644.11,364.81 L644.39,361.13 L644.67,364.21 L644.94,361.53 L645.22,365.44 L645.50,361.60 L645.78,363.09 L646.06,361.50 L646.33,362.53 L646.61,361.96 L646.89,362.35 L647.17,361.86 L647.44,362.79 L647.72,360.99 L648.00,361.70 L648.28,363.32 L648.56,360.54 L648.84,363.78 L649.12,360.04 L649.41,360.15 L649.69,357.46 L649.97,362.50 L650.25,358.62 L650.53,361.34 L650.81,357.56 L651.09,358.08 L651.38,356.90 L651.66,357.93 L651.94,356.72 L652.22,357.33 L652.50,356.04 L652.78,356.25 L653.06,355.35 L653.34,357.19 L653.62,354.69 L653.91,355.60 L654.19,353.58 L654.47,353.84 L654.75,353.30 L655.03,353.24 L655.31,353.65 L655.59,352.89 L655.88,353.42 L656.16,352.96 L656.44,353.47 L656.72,353.21 L657.00,353.41 L657.28,352.55 L657.56,353.68 L657.84,352.86 L658.12,354.51 L658.41,351.99 L658.69,353.73 L658.97,352.71 L659.25,355.98 L659.53,351.92 L659.81,356.28 L660.09,353.07 L660.38,354.48 L660.66,351.00 L660.94,354.16 L661.22,353.18 L661.50,353.30 L661.78,355.55 L662.06,352.98 L662.33,352.96 L662.61,352.24 L662.89,355.62 L663.17,352.09 L663.44,353.66 L663.72,350.98 L664.00,355.02 L664.28,350.26 L664.56,352.65 L664.83,350.98 L665.11,351.43 L665.39,351.18 L665.67,355.59 L665.94,350.13 L666.22,351.66 L666.50,350.30 L666.78,350.98 L667.06,349.79 L667.33,352.45 L667.61,346.88 L667.89,351.03 L668.17,349.34 L668.44,350.95 L668.72,348.65 L669.00,349.25 L669.28,351.07 L669.56,347.36 L669.83,349.27 L670.11,348.02 L670.39,349.35 L670.67,347.67 L670.94,350.24 L671.22,347.01 L671.50,347.32 L671.78,346.25 L672.06,350.43 L672.33,345.43 L672.61,346.68 L672.89,345.15 L673.17,350.22 L673.44,344.41 L673.72,345.59 L674.00,342.13 L674.28,344.77 L674.56,343.66 L674.83,345.67 L675.11,343.35 L675.39,344.44 L675.67,340.93 L675.94,344.57 L676.22,341.50 L676.50,342.50 L676.78,345.14 L677.06,341.03 L677.33,342.54 L677.61,339.77 L677.89,342.63 L678.17,338.57 L678.44,341.98 L678.72,339.64 L679.00,343.16 L679.28,340.28 L679.56,341.49 L679.83,339.59 L680.11,342.03 L680.39,339.04 L680.67,340.66 L680.94,336.84 L681.22,340.46 L681.50,338.26 L681.78,340.98 L682.06,339.18 L682.33,340.55 L682.61,337.58 L682.89,342.45 L683.17,337.73 L683.44,339.90 L683.72,337.67 L684.00,338.20 L684.29,338.50 L684.57,335.03 L684.86,338.70 L685.14,336.73 L685.43,338.84 L685.71,335.65 L686.00,337.64 L686.29,336.67 L686.57,337.30 L686.86,335.55 L687.14,336.57 L687.43,335.37 L687.71,339.64 L688.00,335.48 L688.29,340.01 L688.57,334.55 L688.86,336.96 L689.14,333.48 L689.43,334.93 L689.71,334.22 L690.00,334.30 L690.28,335.00 L690.56,332.46 L690.83,333.85 L691.11,333.06 L691.39,334.33 L691.67,332.65 L691.94,333.36 L692.22,330.06 L692.50,332.12 L692.78,331.61 L693.06,331.61 L693.33,330.17 L693.61,332.37 L693.89,329.84 L694.17,331.46 L694.44,329.91 L694.72,330.13 L695.00,327.99 L695.28,330.67 L695.56,328.54 L695.83,329.00 L696.11,328.22 L696.39,329.78 L696.67,327.90 L696.94,331.37 L697.22,327.11 L697.50,327.40 L697.78,327.80 L698.06,326.91 L698.33,327.75 L698.61,326.45 L698.89,327.54 L699.17,326.56 L699.44,327.70 L699.72,326.20 L700.00,326.80 L700.28,325.60 L700.56,326.54 L700.83,325.91 L701.11,326.47 L701.39,325.58 L701.67,326.14 L701.94,325.43 L702.22,326.84 L702.50,325.05 L702.78,325.54 L703.06,324.60 L703.33,325.55 L703.61,324.95 L703.89,326.30 L704.17,324.34 L704.44,325.09 L704.72,322.94 L705.00,324.50 L705.28,325.75 L705.55,323.06 L705.83,324.37 L706.11,323.66 L706.38,324.91 L706.66,323.13 L706.93,323.77 L707.21,322.59 L707.49,323.36 L707.76,322.50 L708.04,322.89 L708.32,321.74 L708.59,322.24 L708.87,321.63 L709.14,322.99 L709.42,321.17 L709.70,321.75 L709.97,320.77 L710.25,320.75 L710.53,321.51 L710.80,320.27 L711.08,322.46 L711.36,320.99 L711.63,321.38 L711.91,321.05 L712.18,321.36 L712.46,321.32 L712.74,322.64 L713.01,320.88 L713.29,323.44 L713.57,320.95 L713.84,322.06 L714.12,321.85 L714.39,323.32 L714.67,321.67 L714.95,322.12 L715.22,321.61 L715.50,322.25 L715.78,322.66 L716.06,321.50 L716.34,322.97 L716.62,322.03 L716.91,323.61 L717.19,322.53 L717.47,323.87 L717.75,322.99 L718.03,323.19 L718.31,322.62 L718.59,324.40 L718.88,323.36 L719.16,324.63 L719.44,322.66 L719.72,324.34 L720.00,323.75" stroke="#008000" stroke-width="0.95"/>
<path d="M364.70,393.96 L365.00,394.50 L365.25,396.00 L365.50,392.40 L365.75,392.20 L366.00,391.00 L366.25,389.68 L366.50,389.27 L366.75,387.02 L367.00,386.50 L367.27,387.80 L367.53,388.47 L367.80,390.00 L368.15,387.87 L368.50,385.50 L368.75,385.80 L369.00,388.58 L369.25,389.33 L369.50,391.00 L369.75,390.08 L370.00,387.06 L370.25,386.04 L370.50,384.00 L370.75,381.49 L371.00,379.50 L371.25,387.87 L371.50,393.00 L371.75,393.23 L372.00,395.58 L372.25,394.14 L372.50,395.00 L372.85,389.48 L373.20,382.50 L373.50,390.24 L373.80,398.50 L374.05,397.35 L374.30,394.17 L374.55,392.15 L374.80,390.00 L375.05,391.17 L375.30,392.59 L375.55,393.54 L375.80,395.00 L376.15,393.57 L376.50,392.00 L376.75,393.28 L377.00,395.02 L377.25,396.06 L377.50,398.00 L377.75,397.41 L378.00,394.91 L378.25,395.67 L378.50,394.00 L378.75,395.18 L379.00,397.51 L379.25,398.73 L379.50,400.50 L379.75,399.18 L380.00,396.76 L380.25,396.12 L380.50,394.00 L380.75,393.57 L381.00,393.30 L381.25,392.81 L381.50,392.50 L381.85,396.77 L382.20,399.00 L382.46,399.09 L382.72,399.66 L382.98,398.66 L383.24,401.89 L383.50,400.50 L383.75,404.01 L384.00,409.00 L384.25,405.44 L384.50,400.00 L384.85,403.49 L385.20,408.00 L385.47,410.45" stroke="#008000" stroke-width="1.45"/>
<path d="M395.20,414.65 L395.50,415.00 L395.75,414.06 L396.00,414.34 L396.25,412.23 L396.50,412.00 L396.75,414.25 L397.00,413.50 L397.25,414.76 L397.50,415.00 L397.75,413.35 L398.00,412.76 L398.25,409.81 L398.50,409.50 L398.85,412.45 L399.20,413.50 L399.47,410.84 L399.73,409.93 L400.00,406.50 L400.27,407.61 L400.53,411.88 L400.80,414.00 L401.15,410.89 L401.50,411.00 L401.85,409.91 L402.20,408.00 L402.47,410.29 L402.73,412.70 L403.00,415.00 L403.27,413.47 L403.53,415.25 L403.80,412.00 L404.10,408.83 L404.40,407.39 L404.70,404.50 L404.97,407.47 L405.23,410.96 L405.50,414.00 L405.80,414.32" stroke="#008000" stroke-width="1.45"/>
<path d="M419.00,422.50 L419.27,422.41 L419.55,423.10 L419.82,422.44 L420.09,423.78 L420.36,422.73 L420.64,422.89 L420.91,422.74 L421.18,423.29 L421.45,422.86 L421.73,423.42 L422.00,423.00 L422.30,423.45 L422.60,424.41 L422.90,424.50 L423.20,425.74 L423.50,426.00 L423.80,425.08 L424.10,425.58 L424.40,423.58 L424.70,423.93 L425.00,423.00 L425.30,423.17 L425.60,423.87 L425.90,423.28 L426.20,423.98 L426.50,424.00 L426.80,423.12 L427.10,423.42 L427.40,421.54 L427.70,420.93 L428.00,420.00 L428.25,419.13 L428.50,418.58 L428.75,417.68 L429.00,417.00 L429.25,420.38 L429.50,422.00 L429.80,420.54" stroke="#008000" stroke-width="1.3"/>
</g>
<rect x="112.5" y="69.6" width="155.8" height="36.45" fill="#fff" stroke="#000" stroke-width="1.25"/>
<path d="M127.5,79.5H159" stroke="#ff0000" stroke-width="0.7"/>
<path d="M127.5,96.5H159" stroke="#008000" stroke-width="0.75"/>
<text x="170.6" y="80.8" font-size="13.89" letter-spacing="0.24">GPS_CLOCK</text>
<text x="171.2" y="98.9" font-size="13.89">ILE_INTAKE</text>
<text x="410.1" y="45" font-size="19.44" text-anchor="middle" style="white-space:pre"><tspan letter-spacing="-0.02">APOLLO GPS Clock </tspan><tspan letter-spacing="0.28">Temperatures</tspan></text>
<text x="97.3" y="544.8" font-size="16.67" text-anchor="end" textLength="20.7" lengthAdjust="spacingAndGlyphs">10</text>
<text x="97.1" y="474.8" font-size="16.67" text-anchor="end" textLength="19.4" lengthAdjust="spacingAndGlyphs">15</text>
<text x="96.35" y="404.8" font-size="16.67" text-anchor="end" textLength="20.7" lengthAdjust="spacingAndGlyphs">20</text>
<text x="96.35" y="335.8" font-size="16.67" text-anchor="end" textLength="19.7" lengthAdjust="spacingAndGlyphs">25</text>
<text x="95.35" y="265.8" font-size="16.67" text-anchor="end" textLength="19.7" lengthAdjust="spacingAndGlyphs">30</text>
<text x="95.35" y="196.8" font-size="16.67" text-anchor="end" textLength="18.6" lengthAdjust="spacingAndGlyphs">35</text>
<text x="95.1" y="126.8" font-size="16.67" text-anchor="end" textLength="19.7" lengthAdjust="spacingAndGlyphs">40</text>
<text x="176.30" y="556" font-size="16.67" text-anchor="end" textLength="44.95" lengthAdjust="spacingAndGlyphs">15:00</text>
<text x="176.30" y="569.6" font-size="16.67" text-anchor="end" textLength="48.4" lengthAdjust="spacingAndGlyphs">Jun 05</text>
<text x="314.30" y="556" font-size="16.67" text-anchor="end" textLength="45.4" lengthAdjust="spacingAndGlyphs">23:00</text>
<text x="314.30" y="569.6" font-size="16.67" text-anchor="end" textLength="48.4" lengthAdjust="spacingAndGlyphs">Jun 05</text>
<text x="452.30" y="556" font-size="16.67" text-anchor="end" textLength="45.4" lengthAdjust="spacingAndGlyphs">07:00</text>
<text x="452.75" y="569.6" font-size="16.67" text-anchor="end" textLength="48.8" lengthAdjust="spacingAndGlyphs">Jun 06</text>
<text x="590.20" y="556" font-size="16.67" text-anchor="end" textLength="44.95" lengthAdjust="spacingAndGlyphs">15:00</text>
<text x="589.70" y="569.6" font-size="16.67" text-anchor="end" textLength="48.8" lengthAdjust="spacingAndGlyphs">Jun 06</text>
<text x="727.25" y="556" font-size="16.67" text-anchor="end" textLength="45.4" lengthAdjust="spacingAndGlyphs">23:00</text>
<text x="727.80" y="569.6" font-size="16.67" text-anchor="end" textLength="48.8" lengthAdjust="spacingAndGlyphs">Jun 06</text>
<text x="410.2" y="591.8" font-size="16.67" text-anchor="middle" textLength="93.7" lengthAdjust="spacingAndGlyphs">Date (GMT)</text>
<text transform="translate(69.3,299.9) rotate(-90)" font-size="16.67" text-anchor="middle" textLength="130.3" lengthAdjust="spacingAndGlyphs">Temperature (C)</text>
</svg></body></html>
